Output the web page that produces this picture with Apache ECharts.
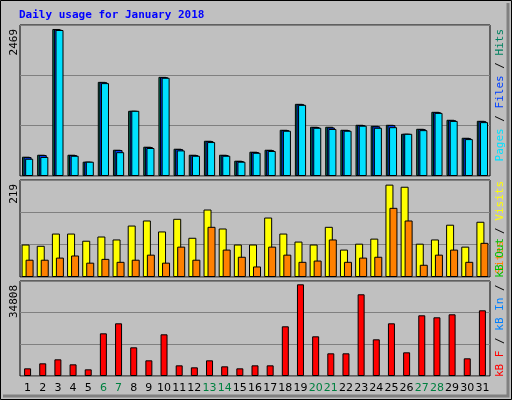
<!DOCTYPE html><html><head><meta charset="utf-8"><script src="https://cdn.jsdelivr.net/npm/echarts@6/dist/echarts.min.js"></script>
<style>html,body{margin:0;padding:0;background:#fff}#c{width:512px;height:400px}</style></head><body><div id="c"></div><script>
const days=['1','2','3','4','5','6','7','8','9','10','11','12','13','14','15','16','17','18','19','20','21','22','23','24','25','26','27','28','29','30','31'];
const weekends=['6','7','13','14','20','21','27','28'];
const hits=[324,357,2469,357,240,1581,441,1095,492,1665,458,357,592,357,257,408,441,776,1212,827,827,776,860,843,860,709,793,1078,944,642,927];
const files=[318,352,2460,352,240,1575,436,1095,487,1660,452,352,586,352,252,403,436,771,1206,822,815,771,855,835,855,709,788,1072,938,636,921];
const pages=[290,320,2452,340,240,1560,400,1095,470,1650,430,340,570,340,240,390,420,760,1195,810,790,760,845,810,820,709,770,1060,925,620,905];
const visits=[77,74,103,103,86,96,89,122,134,108,138,93,160,115,77,77,141,103,84,77,119,65,79,91,219,214,79,89,124,72,131];
const sites=[41,41,46,51,34,43,36,41,53,34,72,41,119,65,48,25,72,53,36,39,89,36,46,48,164,134,29,53,65,36,81];
const kbytes=[2912,4810,6329,4430,2532,16203,20000,10886,5949,15823,4050,3291,5949,3671,2912,4050,4050,18861,34808,15063,8608,8608,31013,13924,20000,8987,23038,22278,23418,6709,24936];
const maxLabels=['2469','219','34808'];
const ch=echarts.init(document.getElementById('c'));
const grids=[{left:20,right:22,top:25,height:151},{left:20,right:22,top:180,height:97},{left:20,right:22,top:281,height:95}];
const maxes=[2536,230,36060];
const bs={borderColor:'#000',borderWidth:1};
const xa=grids.map((g,i)=>({type:'category',gridIndex:i,data:days,axisLine:{show:false},axisTick:{show:false},
 axisLabel:i<2?{show:false}:{interval:0,margin:7,fontSize:11,fontFamily:'DejaVu Sans',formatter:v=>weekends.includes(v)?'{w|'+v+'}':'{n|'+v+'}',rich:{w:{color:'#008040',fontSize:11,fontFamily:'DejaVu Sans'},n:{color:'#000',fontSize:11,fontFamily:'DejaVu Sans'}}}}));
const ya=grids.map((g,i)=>({type:'value',gridIndex:i,min:0,max:maxes[i],interval:maxes[i]/3,axisLabel:{show:false},axisLine:{show:false},axisTick:{show:false},splitLine:{lineStyle:{color:'#808080',width:1}}}));
const F='11px "DejaVu Sans Mono"';
ch.setOption({backgroundColor:'#c0c0c0',animation:false,
 grid:grids.map(g=>Object.assign({show:true,backgroundColor:'#c0c0c0',borderColor:'#000',borderWidth:1},g)),
 xAxis:xa,yAxis:ya,
 series:[
  {type:'bar',xAxisIndex:0,yAxisIndex:0,data:hits,barWidth:8,barGap:'-80%',itemStyle:Object.assign({color:'#008060'},bs)},
  {type:'bar',xAxisIndex:0,yAxisIndex:0,data:files,barWidth:8,barGap:'-80%',itemStyle:Object.assign({color:'#0040ff'},bs)},
  {type:'bar',xAxisIndex:0,yAxisIndex:0,data:pages,barWidth:8,barGap:'-80%',itemStyle:Object.assign({color:'#00e0ff'},bs)},
  {type:'bar',xAxisIndex:1,yAxisIndex:1,data:visits,barWidth:8,barGap:'-50%',itemStyle:Object.assign({color:'#ffff00'},bs)},
  {type:'bar',xAxisIndex:1,yAxisIndex:1,data:sites,barWidth:8,barGap:'-50%',itemStyle:Object.assign({color:'#ff8000'},bs)},
  {type:'bar',xAxisIndex:2,yAxisIndex:2,data:kbytes,barWidth:7,itemStyle:Object.assign({color:'#ff0000'},bs)}
 ],
 graphic:[
  {type:'rect',shape:{x:0.5,y:0.5,width:511,height:399},style:{fill:'none',stroke:'#000',lineWidth:1}},
  {type:'polyline',shape:{points:[[3,396],[508,396],[508,3]]},style:{fill:'none',stroke:'#808080',lineWidth:3}},
  {type:'text',x:19,y:15,style:{text:'Daily usage for January 2018',fill:'#0000ff',font:'bold 11px "DejaVu Sans Mono"',verticalAlign:'middle'}},
  {type:'text',x:14,y:29,rotation:Math.PI/2,style:{text:maxLabels[0],fill:'#000',font:F,align:'right',verticalAlign:'middle'}},
  {type:'text',x:14,y:184,rotation:Math.PI/2,style:{text:maxLabels[1],fill:'#000',font:F,align:'right',verticalAlign:'middle'}},
  {type:'text',x:14,y:285,rotation:Math.PI/2,style:{text:maxLabels[2],fill:'#000',font:F,align:'right',verticalAlign:'middle'}},
  {type:'text',x:500,y:29,rotation:Math.PI/2,style:{text:'{a|Pages}{s| / }{b|Files}{s| / }{c|Hits}',align:'right',verticalAlign:'middle',rich:{a:{fill:'#00e0ff',font:F},b:{fill:'#0040ff',font:F},c:{fill:'#008060',font:F},s:{fill:'#000',font:F}}}},
  {type:'text',x:500,y:181,rotation:Math.PI/2,style:{text:'{a|Sites}{s| / }{b|Visits}',align:'right',verticalAlign:'middle',rich:{a:{fill:'#ff8000',font:F},b:{fill:'#ffff00',font:F},s:{fill:'#000',font:F}}}},
  {type:'text',x:500,y:377,rotation:Math.PI/2,style:{text:'{a|kB F}{s| / }{b|kB In}{s| / }{c|kB Out}',align:'left',verticalAlign:'middle',rich:{a:{fill:'#ff0000',font:F},b:{fill:'#0080ff',font:F},c:{fill:'#00c000',font:F},s:{fill:'#000',font:F}}}}
 ]});
</script></body></html>
